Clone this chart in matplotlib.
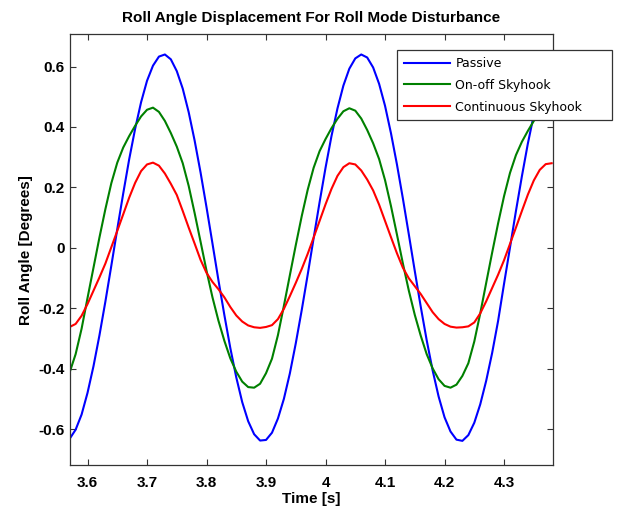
import numpy as np
import matplotlib
matplotlib.use('Agg')
import matplotlib.pyplot as plt

# time samples (s), 0.01 s apart
tiempo = np.round(np.arange(3.57, 4.385, 0.01), 2)

pasivo = [
    -0.632, -0.602, -0.552, -0.480, -0.392, -0.290, -0.178, -0.059, 0.062, 0.180,
    0.293, 0.394, 0.482, 0.553, 0.603, 0.633, 0.640, 0.624, 0.585, 0.527,
    0.449, 0.355, 0.249, 0.134, 0.014, -0.107, -0.223, -0.332, -0.429, -0.511,
    -0.574, -0.617, -0.638, -0.636, -0.612, -0.565, -0.500, -0.416, -0.316, -0.206,
    -0.089, 0.032, 0.151, 0.265, 0.370, 0.461, 0.537, 0.593, 0.627, 0.640,
    0.630, 0.597, 0.543, 0.470, 0.379, 0.276, 0.163, 0.044, -0.077, -0.195,
    -0.306, -0.406, -0.492, -0.561, -0.608, -0.635, -0.639, -0.620, -0.579, -0.518,
    -0.440, -0.348, -0.242, -0.119, 0.001, 0.122, 0.237, 0.345, 0.440, 0.520,
    0.580, 0.621,
]

on_off = [
    -0.412, -0.352, -0.268, -0.166, -0.066, 0.034, 0.128, 0.214, 0.282, 0.332,
    0.370, 0.404, 0.435, 0.457, 0.464, 0.450, 0.420, 0.380, 0.335, 0.280,
    0.205, 0.115, 0.020, -0.076, -0.164, -0.241, -0.308, -0.366, -0.410, -0.443,
    -0.461, -0.463, -0.450, -0.415, -0.367, -0.289, -0.192, -0.091, 0.009, 0.105,
    0.192, 0.265, 0.320, 0.360, 0.396, 0.427, 0.452, 0.462, 0.454, 0.428,
    0.390, 0.346, 0.294, 0.224, 0.138, 0.044, -0.052, -0.142, -0.222, -0.291,
    -0.352, -0.399, -0.435, -0.457, -0.463, -0.453, -0.424, -0.382, -0.310, -0.217,
    -0.116, -0.016, 0.081, 0.171, 0.248, 0.307, 0.351, 0.387, 0.420, 0.446,
    0.461, 0.457,
]

continuo = [
    -0.262, -0.252, -0.225, -0.186, -0.142, -0.098, -0.052, 0.002, 0.056, 0.111,
    0.166, 0.215, 0.254, 0.276, 0.282, 0.272, 0.246, 0.212, 0.175, 0.122,
    0.067, 0.014, -0.040, -0.083, -0.113, -0.137, -0.164, -0.196, -0.224, -0.244,
    -0.257, -0.263, -0.265, -0.262, -0.256, -0.236, -0.202, -0.160, -0.116, -0.070,
    -0.020, 0.034, 0.089, 0.144, 0.195, 0.238, 0.267, 0.280, 0.276, 0.256,
    0.226, 0.190, 0.143, 0.089, 0.035, -0.018, -0.066, -0.101, -0.127, -0.153,
    -0.183, -0.213, -0.236, -0.252, -0.261, -0.264, -0.263, -0.260, -0.247, -0.217,
    -0.177, -0.133, -0.089, -0.041, 0.013, 0.067, 0.122, 0.176, 0.223, 0.258,
    0.277, 0.280,
]

x_ticks = [3.6, 3.7, 3.8, 3.9, 4.0, 4.1, 4.2, 4.3]
x_labels = ['3.6', '3.7', '3.8', '3.9', '4', '4.1', '4.2', '4.3']
y_ticks = [-0.6, -0.4, -0.2, 0, 0.2, 0.4, 0.6]
y_labels = ['-0.6', '-0.4', '-0.2', '0', '0.2', '0.4', '0.6']

plt.rcParams['font.family'] = ['Liberation Sans', 'DejaVu Sans']
plt.rcParams['font.weight'] = 'bold'

fig = plt.figure(figsize=(6.21, 5.08), dpi=100)
ax = fig.add_axes([0.1122, 0.0846, 0.779, 0.848])

ax.plot(tiempo, pasivo, color='#0000ff', lw=1.5, label='Passive')
ax.plot(tiempo, on_off, color='#008000', lw=1.5, label='On-off Skyhook')
ax.plot(tiempo, continuo, color='#ff0000', lw=1.5, label='Continuous Skyhook')

ax.set_xlim(3.57, 4.383)
ax.set_ylim(-0.719, 0.707)
ax.set_xticks(x_ticks)
ax.set_xticklabels(x_labels)
ax.set_yticks(y_ticks)
ax.set_yticklabels(y_labels)

ax.tick_params(direction='in', length=4, width=0.8, labelsize=11,
               top=True, right=True, color='#333333')
ax.tick_params(axis='x', pad=8)
for s in ax.spines.values():
    s.set_color('#333333')
    s.set_linewidth(0.9)

ax.set_title('Roll Angle Displacement For Roll Mode Disturbance',
             fontsize=11, fontweight='bold', pad=9)
ax.set_xlabel('Time [s]', fontsize=11, fontweight='bold', labelpad=1)
ax.set_ylabel('Roll Angle [Degrees]', fontsize=11, fontweight='bold', labelpad=4)

# legend box hangs past the right edge of the axes, like the original
leg = ax.legend(loc='upper left', bbox_to_anchor=(0.677, 0.5, 0.4446, 0.463),
                mode='expand', frameon=True, fancybox=False, edgecolor='#333333',
                framealpha=1.0,
                handlelength=3.7, handletextpad=0.4, labelspacing=0.7,
                borderpad=0.55, borderaxespad=0.0,
                prop={'family': 'DejaVu Sans', 'size': 9, 'weight': 'normal'})
leg.get_frame().set_linewidth(0.9)
leg.set_zorder(5)

fig.savefig('out.png', dpi=100)
